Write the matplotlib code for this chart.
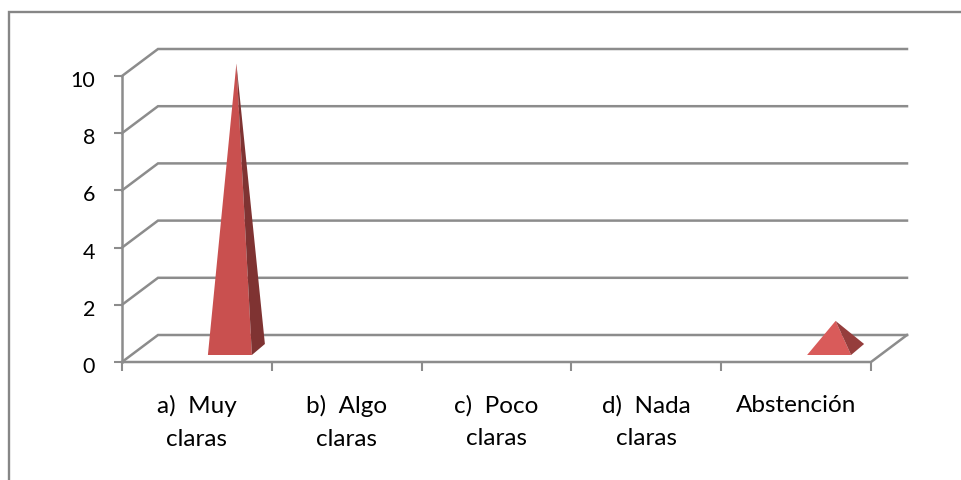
import matplotlib
matplotlib.use("Agg")
import matplotlib.pyplot as plt
from matplotlib.lines import Line2D
from matplotlib.patches import Polygon
from matplotlib.transforms import ScaledTranslation

categories = ["a)  Muy\nclaras", "b)  Algo\nclaras", "c)  Poco\nclaras", "d)  Nada\nclaras", "Abstención"]
values = [10, 0, 0, 0, 1]
y_ticks = [0, 2, 4, 6, 8, 10]

W, H = 961, 481
PX0, PX1, PY0, PY10 = 122, 871, 363, 77
UX = (PX1 - PX0) / len(categories)
UY = (PY0 - PY10) / 10
DX, DY = 36 / UX, 27 / UY   # depth offset in data units

plt.rcParams["font.family"] = ["Lato", "DejaVu Sans"]
fig = plt.figure(figsize=(W / 100, H / 100), dpi=100)
fig.patch.set_facecolor("white")
# Outer frame: only the top and left edges are visible in the crop
fig.add_artist(Line2D([9 / W, 9 / W, 1], [0, 1 - 13 / H, 1 - 13 / H], color="#868686", lw=1.7,
                      transform=fig.transFigure, solid_joinstyle="miter"))
ax = fig.add_axes([PX0 / W, 1 - PY0 / H, (PX1 - PX0) / W, (PY0 - PY10) / H])
ax.set_xlim(0, len(categories))
ax.set_ylim(0, 10)
ax.patch.set_visible(False)
for s in ax.spines.values():
    s.set_visible(False)

GRID = "#8c8c8c"
LW = 1.8
n = len(categories)
for v in y_ticks:
    ax.plot([0, DX, n + DX], [v, v + DY, v + DY], color=GRID, lw=LW, clip_on=False, zorder=1,
            solid_joinstyle="miter")
ax.plot([0, 0], [0, 10], color=GRID, lw=LW, zorder=2, clip_on=False)
ax.plot([0, n, n + DX], [0, 0, DY], color=GRID, lw=LW, zorder=2, clip_on=False)

FRONT_W = 44 / UX
SIDE = 13 / UX
SIDE_Y = 11 / UY
FRONT_Y = 7 / UY
BAR_SHIFT = 11 / UX
for i, v in enumerate(values):
    if v <= 0:
        continue
    left = i + 0.5 + BAR_SHIFT
    fl = (left, FRONT_Y)
    fr = (left + FRONT_W, FRONT_Y)
    br = (fr[0] + SIDE, FRONT_Y + SIDE_Y)
    apex = ((fl[0] + br[0]) / 2, FRONT_Y + SIDE_Y / 2 + v)
    front_col = "#c9504f" if v > 5 else "#d95b5a"
    side_col = "#7f3332" if v > 5 else "#953d3c"
    ax.add_patch(Polygon([fl, fr, apex], closed=True, fc=front_col, ec="none", zorder=3, clip_on=False))
    ax.add_patch(Polygon([fr, br, apex], closed=True, fc=side_col, ec="none", zorder=3, clip_on=False))

ax.set_yticks(y_ticks)
ax.set_xticks(range(n + 1))
ax.set_xticklabels([])
ax.set_xticks([i + 0.5 for i in range(n)], minor=True)
ax.set_xticklabels(categories, minor=True, linespacing=1.68, va="top")
ax.tick_params(axis="y", length=6, width=1.5, color=GRID, labelsize=15.5, labelcolor="black", pad=13.5)
ax.tick_params(axis="x", which="major", length=6.5, width=1.5, color=GRID)
ax.tick_params(axis="x", which="minor", length=0, labelsize=17.5, labelcolor="black", pad=23)
shift = ScaledTranslation(0, -2 / 100, fig.dpi_scale_trans)
for lab in ax.get_yticklabels():
    lab.set_transform(lab.get_transform() + shift)

fig.savefig("out.png", dpi=100)
